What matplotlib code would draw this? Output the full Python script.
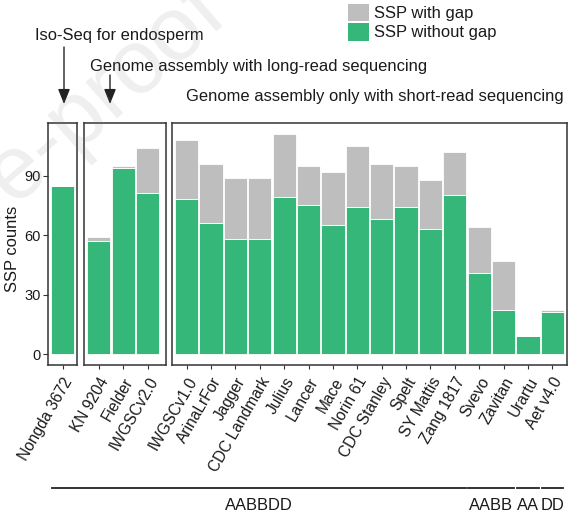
import matplotlib.pyplot as plt
from matplotlib.patches import Patch, FancyArrowPatch
from matplotlib.lines import Line2D

plt.rcParams['font.family'] = ['Liberation Sans', 'DejaVu Sans']

cultivars = ["Nongda 3672", "KN 9204", "Fielder", "IWGSCv2.0", "IWGSCv1.0",
             "ArinaLrFor", "Jagger", "CDC Landmark", "Julius", "Lancer", "Mace",
             "Norin 61", "CDC Stanley", "Spelt", "SY Mattis", "Zang 1817",
             "Svevo", "Zavitan", "Urartu", "Aet v4.0"]
ssp_without_gap = [85, 57, 94, 81, 78, 66, 58, 58, 79, 75, 65, 74, 68, 74, 63, 80, 41, 22, 9, 21]
ssp_with_gap = [0, 2, 1, 23, 30, 30, 31, 31, 32, 20, 27, 31, 28, 21, 25, 22, 23, 25, 0, 1]
panel_sizes = [1, 3, 16]
genomes = ["AABBDD"] * 16 + ["AABB"] * 2 + ["AA", "DD"]

GREEN = "#35B779"
GRAY = "#BEBEBE"
TXT = "#1a1a1a"
FS = 11.9

W, H = 585, 522
fig = plt.figure(figsize=(W / 100, H / 100), dpi=100)


def box(l, r, t=123, b=365):
    return [l / W, 1 - b / H, (r - l) / W, (b - t) / H]


panel_px = [(48, 77), (84, 166), (172, 567)]
xmax = [0.6, 2.75, 15.6]

axes = []
start = 0
for k, n in enumerate(panel_sizes):
    ax = fig.add_axes(box(*panel_px[k]))
    x = list(range(n))
    g = ssp_without_gap[start:start + n]
    gap = ssp_with_gap[start:start + n]
    ax.bar(x, g, width=0.95, color=GREEN, edgecolor="white", linewidth=0.6)
    ax.bar(x, gap, bottom=g, width=0.95, color=GRAY, edgecolor="white", linewidth=0.6)
    ax.set_xlim(-0.6, xmax[k])
    ax.set_ylim(-5.55, 116.55)
    ax.set_xticks(x)
    ax.set_xticklabels(cultivars[start:start + n], rotation=60, ha="right", va="top",
                       rotation_mode="anchor", fontsize=11.2, color=TXT)
    ax.tick_params(axis="x", length=3, width=0.8, color="#333333", pad=4)
    for s in ax.spines.values():
        s.set_color("#333333")
        s.set_linewidth(1.1)
    if k == 0:
        ax.set_yticks([0, 30, 60, 90])
        ax.tick_params(axis="y", length=3.5, width=0.8, color="#333333", pad=2,
                       labelsize=10.5, labelcolor=TXT)
        ax.set_ylabel("SSP counts", fontsize=FS, color=TXT)
        ax.yaxis.set_label_coords(-0.95, 0.48)
    else:
        ax.set_yticks([])
    axes.append(ax)
    start += n

# genome group lines under the tick labels
inv = fig.transFigure.inverted()


def to_fig(i, dx):
    k = 0
    j = i
    while j >= panel_sizes[k]:
        j -= panel_sizes[k]
        k += 1
    disp = axes[k].transData.transform((j + dx, 0))
    return inv.transform(disp)[0]


line_y = 1 - 488 / H
txt_y = 1 - 506 / H
i = 0
while i < len(genomes):
    j = i
    while j + 1 < len(genomes) and genomes[j + 1] == genomes[i]:
        j += 1
    x0 = to_fig(i, -0.44)
    x1 = to_fig(j, 0.44)
    fig.add_artist(Line2D([x0, x1], [line_y, line_y], color="#222222", linewidth=1.3))
    fig.text((x0 + x1) / 2, txt_y, genomes[i], ha="center", va="center",
             fontsize=FS, color=TXT)
    i = j + 1

# annotations
fig.text(35 / W, 1 - 40 / H, "Iso-Seq for endosperm", fontsize=FS, color=TXT, va="baseline")
fig.text(90 / W, 1 - 70.5 / H, "Genome assembly with long-read sequencing", fontsize=FS,
         color=TXT, va="baseline")
fig.text(186 / W, 1 - 101.5 / H, "Genome assembly only with short-read sequencing",
         fontsize=FS, color=TXT, va="baseline")
for ax_x, y0 in [(64, 47), (110, 75)]:
    fig.add_artist(FancyArrowPatch((ax_x / W, 1 - y0 / H), (ax_x / W, 1 - 104 / H),
                                   transform=fig.transFigure,
                                   arrowstyle="-|>,head_length=0.45,head_width=0.18",
                                   mutation_scale=20, color="#222222", linewidth=1.0,
                                   shrinkA=0, shrinkB=0))

fig.legend(handles=[Patch(facecolor=GRAY, edgecolor="none"),
                    Patch(facecolor=GREEN, edgecolor="none")],
           labels=["SSP with gap", "SSP without gap"], loc="upper left",
           bbox_to_anchor=(348 / W, 1 - 4 / H), frameon=False, handlelength=1.25,
           handleheight=1.25, handletextpad=0.3, labelspacing=0.1, borderpad=0,
           borderaxespad=0, fontsize=FS, labelcolor=TXT)

# watermark
fig.text(-55 / W, 1 - 262 / H, "Pre-proof", rotation=41, rotation_mode="anchor",
         ha="left", va="baseline", fontsize=65, color="gray", alpha=0.13, zorder=10)

fig.savefig("out.png", dpi=100)
